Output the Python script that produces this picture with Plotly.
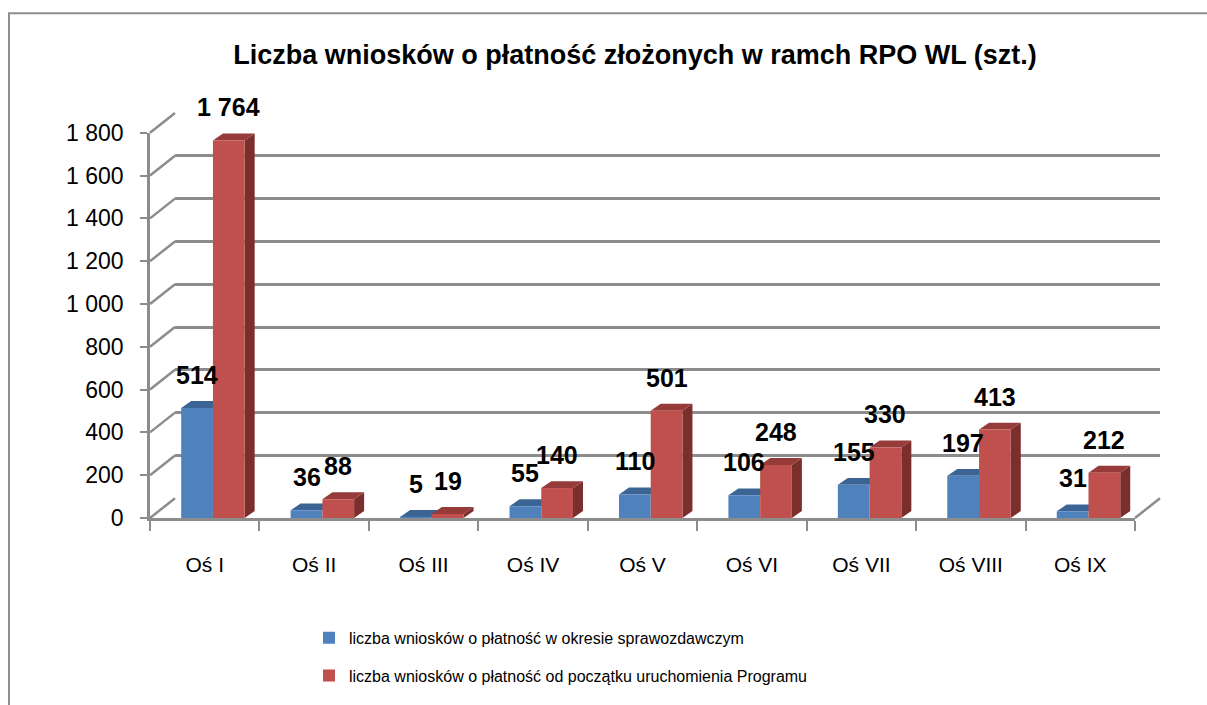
import plotly.graph_objects as go

# ---------------- data ----------------
categories = ["Oś I", "Oś II", "Oś III", "Oś IV", "Oś V", "Oś VI", "Oś VII", "Oś VIII", "Oś IX"]
period_values = [514, 36, 5, 55, 110, 106, 155, 197, 31]
total_values = [1764, 88, 19, 140, 501, 248, 330, 413, 212]
series_names = [
    "liczba wniosków o płatność w okresie sprawozdawczym",
    "liczba wniosków o płatność od początku uruchomienia Programu",
]
y_ticks = [0, 200, 400, 600, 800, 1000, 1200, 1400, 1600, 1800]
title_text = "Liczba wniosków o płatność złożonych w ramch RPO WL (szt.)"

# ---------------- styling / geometry ----------------
W, H = 1207, 705
ml, mr, mt, mb = 150, 47, 113, 182
pw, ph = W - ml - mr, H - mt - mb
depth_x_px, depth_y_px = 25, 20          # back wall offset
fx = (pw - depth_x_px) / pw
fy = (ph - depth_y_px) / ph
ymax = y_ticks[-1]
cat_px = pw * fx / len(categories)
unit_px = ph * fy / ymax

bar_w = 0.29
shift = 0.075
dx = 10 / cat_px        # bar depth in category units
dy = 7 / unit_px        # bar depth in value units

BLUE, BLUE_TOP = "#4F81BD", "#3B6494"
RED, RED_TOP, RED_SIDE = "#C0504D", "#963B39", "#7A2F2D"
GRID = "#8C8C8C"
FONT = "Liberation Sans, Arial, sans-serif"

fig = go.Figure()
# back wall subplot (gridlines)
fig.add_trace(go.Scatter(x=[None], y=[None], xaxis="x", yaxis="y",
                         showlegend=False, hoverinfo="skip"))
fig.add_trace(go.Bar(x=categories, y=period_values, name=series_names[0],
                     marker=dict(color=BLUE, line=dict(width=0)),
                     width=bar_w, offset=-bar_w + shift,
                     xaxis="x2", yaxis="y2", legendgroup="a"))
fig.add_trace(go.Bar(x=categories, y=total_values, name=series_names[1],
                     marker=dict(color=RED, line=dict(width=0)),
                     width=bar_w, offset=shift,
                     xaxis="x2", yaxis="y2", legendgroup="b"))

shapes = []
# 3D faces of bars (derived from the data through the axes)
for i, (vb, vr) in enumerate(zip(period_values, total_values)):
    bl, br = i - bar_w + shift, i + shift
    rl, rr = i + shift, i + shift + bar_w
    shapes.append(dict(type="path", xref="x2", yref="y2", layer="between",
                       path=f"M{bl},{vb} L{br},{vb} L{br+dx},{vb+dy} L{bl+dx},{vb+dy} Z",
                       fillcolor=BLUE_TOP, line=dict(width=0)))
    shapes.append(dict(type="path", xref="x2", yref="y2", layer="between",
                       path=f"M{rr},0 L{rr+dx},{dy} L{rr+dx},{vr+dy} L{rr},{vr} Z",
                       fillcolor=RED_SIDE, line=dict(width=0)))
    shapes.append(dict(type="path", xref="x2", yref="y2", layer="between",
                       path=f"M{rl},{vr} L{rr},{vr} L{rr+dx},{vr+dy} L{rl+dx},{vr+dy} Z",
                       fillcolor=RED_TOP, line=dict(width=0)))

# left wall diagonals
for v in y_ticks:
    shapes.append(dict(type="line", xref="paper", yref="paper", layer="below",
                       x0=0, y0=v / ymax * fy, x1=1 - fx, y1=(1 - fy) + v / ymax * fy,
                       line=dict(color=GRID, width=2.5)))
# right floor edge
shapes.append(dict(type="line", xref="paper", yref="paper", layer="below",
                   x0=fx, y0=0, x1=1, y1=1 - fy, line=dict(color=GRID, width=2.5)))
# outer chart border (top and left edges visible)
shapes.append(dict(type="rect", xref="paper", yref="paper", layer="below",
                   x0=(9 - ml) / pw, x1=(W + 60 - ml) / pw,
                   y0=(H - mb - (H + 60)) / ph, y1=(H - mb - 12) / ph,
                   line=dict(color="#8E8E8E", width=2), fillcolor="rgba(0,0,0,0)"))

annotations = []
for vals, off in ((period_values, -bar_w / 2 + shift), (total_values, bar_w / 2 + shift)):
    for cat, v in zip(categories, vals):
        annotations.append(dict(x=cat, y=v, xref="x2", yref="y2",
                                text=f"{v:,}".replace(",", " "), showarrow=False,
                                xshift=off * cat_px, yshift=33, yanchor="middle",
                                font=dict(family=FONT, size=25, color="black", weight="bold")))

fig.update_layout(
    width=W, height=H,
    margin=dict(l=ml, r=mr, t=mt, b=mb),
    paper_bgcolor="white", plot_bgcolor="rgba(0,0,0,0)",
    font=dict(family=FONT, color="black"),
    separators=", ",
    barmode="overlay",
    title=dict(text=f"<b>{title_text}</b>", xref="container", yref="container",
               x=635 / W, xanchor="center", y=1 - 55 / H, yanchor="middle",
               font=dict(family=FONT, size=27, color="black")),
    xaxis=dict(domain=[1 - fx, 1], anchor="y", range=[-0.5, len(categories) - 0.5],
               visible=False, showgrid=False, zeroline=False),
    yaxis=dict(domain=[1 - fy, 1], anchor="x", range=[0, ymax], tickvals=y_ticks,
               showgrid=True, gridcolor=GRID, gridwidth=2.5, showticklabels=False,
               ticks="", zeroline=False, showline=False),
    xaxis2=dict(domain=[0, fx], anchor="y2", type="category",
                range=[-0.5, len(categories) - 0.5],
                tickson="boundaries", ticks="outside", ticklen=10, tickwidth=2,
                tickcolor=GRID, showline=True, linecolor=GRID, linewidth=2.5,
                showgrid=False, zeroline=False, ticklabelstandoff=26,
                tickfont=dict(family=FONT, size=21, color="black")),
    yaxis2=dict(domain=[0, fy], anchor="x2", range=[0, ymax], tickvals=y_ticks,
                separatethousands=True, ticks="outside", ticklen=7, tickwidth=2,
                tickcolor=GRID, showline=True, linecolor=GRID, linewidth=2.5,
                showgrid=False, zeroline=False, ticklabelstandoff=12,
                tickfont=dict(family=FONT, size=23, color="black")),
    shapes=shapes,
    annotations=annotations,
    legend=dict(x=(309 - ml) / pw, xanchor="left", y=(H - mb - 627) / ph, yanchor="top",
                orientation="v", traceorder="grouped", tracegroupgap=14,
                font=dict(family=FONT, size=16, color="black"),
                bgcolor="rgba(0,0,0,0)"),
    showlegend=True,
)

fig.write_html("out.html", config={"displayModeBar": False},
               post_script="document.body.style.margin='0px';")
